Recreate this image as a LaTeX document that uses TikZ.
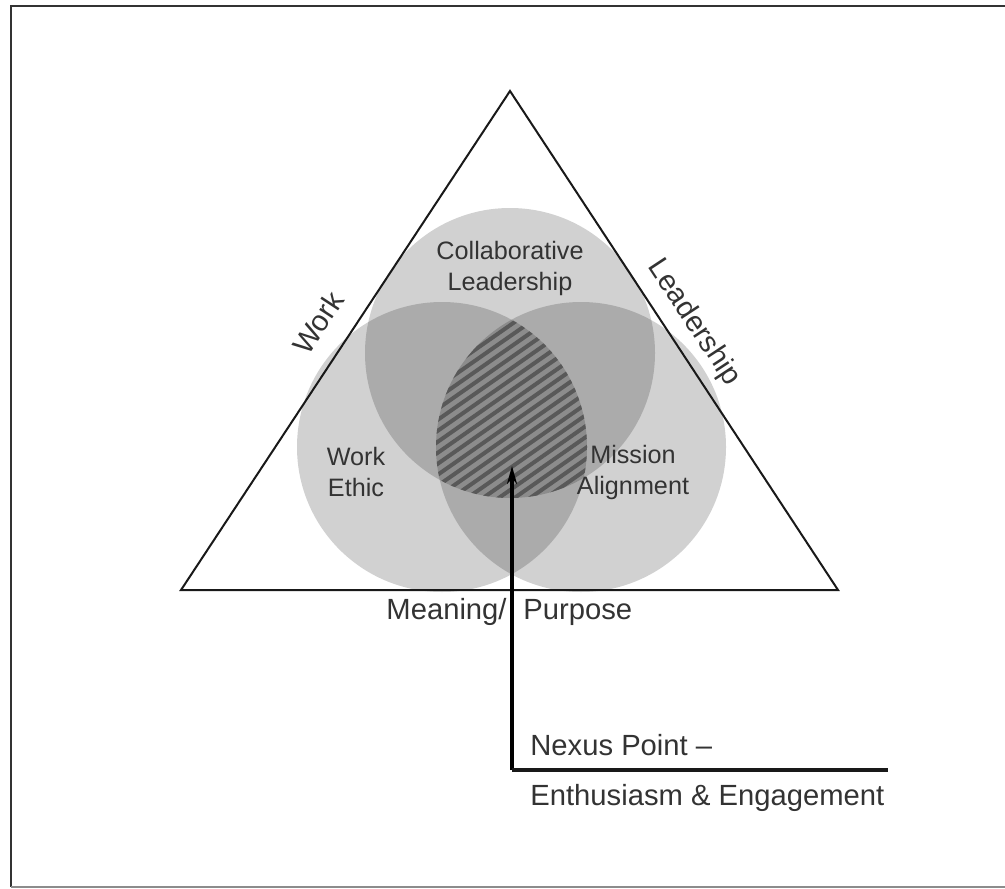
\documentclass[tikz,border=0pt]{standalone}
\usepackage{fontspec}
\setmainfont{Liberation Sans}
\usetikzlibrary{
	arrows.meta,
	positioning,
}
\tikzset{venn/.style={
	draw=none,
	circle,
	inner sep=0mm,
	minimum size=145pt,
	fill=black,
	fill opacity=0.18,
}}
\tikzset{inlabel/.style={
	align=center,
	inner sep=0mm,
	font=\fontsize{12.6}{15.5}\selectfont,
	text=black!80,
}}
\tikzset{outlabel/.style={
	inner sep=0mm,
	font=\fontsize{14.6}{17}\selectfont,
	text=black!80,
}}
\tikzset{hatchline/.style={black!65, line width=2pt}}
\tikzset{pointer/.style={black, line width=1.7pt, -{Stealth[length=9pt,width=5pt]}}}
\tikzset{leaderline/.style={black!90, line width=1.8pt}}

\begin{document}
\begin{tikzpicture}[x=0.5pt, y=-0.5pt]
\useasboundingbox (0,0) rectangle (1005,888);

\draw[black!80, line width=1.4pt] (1005,6) -- (11,6) -- (11,887);
\draw[black!45, line width=1pt] (11,887) -- (1005,887);

\node[venn] (cTop) at (510,353) {};
\node[venn] (cLeft) at (442,447) {};
\node[venn] (cRight) at (581,447) {};

\begin{scope}
\clip (cTop.center) circle[radius=145];
\clip (cLeft.center) circle[radius=145];
\clip (cRight.center) circle[radius=145];
\foreach \d in {-160,-151,...,160}{
	\draw[hatchline] (511,410) ++(\d*0.5736,\d*0.8192) ++(-163.8,114.7) -- ++(327.7,-229.4);
}
\end{scope}

\coordinate (tA) at (510,91);
\coordinate (tB) at (181,590);
\coordinate (tC) at (838,590);
\draw[black!90, line width=1pt, line join=miter] (tA) -- (tB) -- (tC) -- cycle;

\node[inlabel] (collab) at (510,268) {Collaborative\\Leadership};
\node[inlabel] (ethic) at (356,472) {Work\\Ethic};
\node[inlabel] (mission) at (633,472) {Mission\\Alignment};

\node[outlabel, rotate=56.6] (work) at (318,323) {Work};
\node[outlabel, rotate=-56.6] (lead) at (694,323) {Leadership};
\node[outlabel, anchor=east] (meaning) at (507,612) {Meaning/};
\node[outlabel, anchor=west] (purpose) at (523,612) {Purpose};

\coordinate (corner) at (512,770);
\coordinate (nexus) at (512,466);
\coordinate (lineEnd) at (888,770);
\draw[pointer] (corner) -- (nexus);
\draw[leaderline] (corner) -- (lineEnd);

\node[outlabel, anchor=west] (point) at (530,745) {Nexus Point –};
\node[outlabel, anchor=west] (enth) at (530,798) {Enthusiasm \& Engagement};

\end{tikzpicture}
\end{document}
